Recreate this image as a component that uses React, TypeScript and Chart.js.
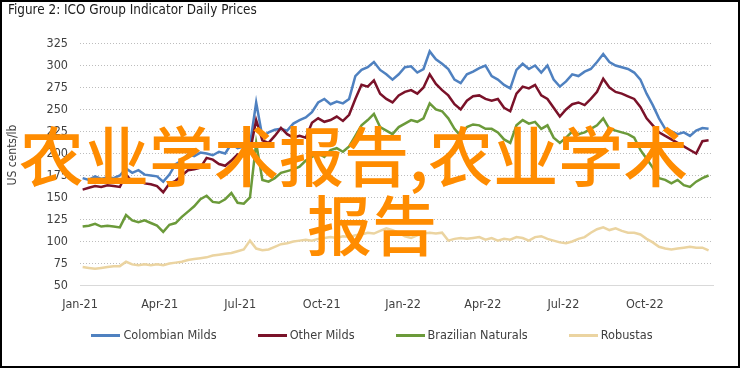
import React, { useEffect, useRef } from "react";
import { Chart, registerables } from "chart.js";

Chart.register(...registerables);

// ---------- data ----------
const AXIS_START = "2021-01-01";
const AXIS_END = "2022-12-17";
const FIRST_WEEK = "2021-01-04"; // weekly observations start here

const tickDates = ["2021-01-01", "2021-04-01", "2021-07-01", "2021-10-01", "2022-01-01", "2022-04-01", "2022-07-01", "2022-10-01"];
const tickLabels = ["Jan-21", "Apr-21", "Jul-21", "Oct-21", "Jan-22", "Apr-22", "Jul-22", "Oct-22"];

const seriesNames = ["Colombian Milds", "Other Milds", "Brazilian Naturals", "Robustas"];
const seriesColors = ["#4f81c0", "#7a1229", "#6b9a3a", "#ebd4a1"];

const colombianMilds = [
  172, 170, 174, 171, 173, 172, 175, 183, 178, 181,
  176, 175, 174, 168, 176, 188, 192, 199, 197, 201,
  200, 198, 202, 200, 211, 206, 208, 210, 258, 219,
  224, 227, 228, 226, 234, 238, 241, 247, 258, 262,
  256, 259, 257, 262, 288, 295, 298, 304, 295, 290,
  284, 290, 298, 299, 292, 296, 316, 307, 302, 296,
  284, 280, 290, 293, 297, 300, 288, 284, 278, 274,
  295, 302, 296, 300, 292, 300, 284, 276, 282, 290,
  288, 293, 296, 304, 313, 304, 300, 298, 296, 292,
  284, 268, 255, 240, 228, 225, 222, 224, 220, 226, 229, 228,
];

const otherMilds = [
  159, 161, 163, 162, 164, 163, 162, 176, 168, 170,
  166, 165, 163, 156, 166, 169, 175, 181, 182, 184,
  195, 193, 188, 186, 192, 199, 197, 202, 238, 215,
  212, 220, 229, 222, 218, 220, 218, 235, 240, 236,
  238, 242, 237, 244, 262, 278, 276, 283, 268, 262,
  258, 266, 270, 272, 268, 275, 290, 279, 272, 266,
  256, 250, 260, 265, 266, 262, 260, 262, 252, 248,
  268, 276, 274, 278, 266, 262, 252, 242, 250, 256,
  258, 255, 262, 270, 285, 275, 270, 268, 265, 262,
  253, 240, 232, 224, 220, 216, 212, 208, 204, 200, 214, 215,
];

const brazilianNaturals = [
  117, 118, 120, 117, 118, 117, 116, 130, 124, 122,
  124, 121, 118, 111, 119, 121, 128, 134, 140, 148,
  152, 145, 144, 148, 155, 144, 143, 150, 212, 170,
  168, 172, 178, 180, 182, 185, 192, 196, 200, 196,
  204, 206, 202, 208, 220, 232, 238, 245, 230, 226,
  222, 230, 234, 238, 236, 240, 257, 250, 248, 240,
  228, 220, 230, 233, 232, 228, 228, 224, 216, 212,
  232, 238, 234, 236, 228, 232, 218, 212, 218, 225,
  222, 224, 228, 232, 240, 228, 226, 224, 222, 218,
  204, 194, 184, 172, 170, 166, 170, 164, 162, 168, 172, 175,
];

const robustas = [
  71, 70, 69, 70, 71, 72, 72, 77, 74, 73,
  74, 73, 74, 73, 75, 76, 77, 79, 80, 81,
  82, 84, 85, 86, 87, 89, 91, 101, 92, 90,
  91, 94, 97, 98, 100, 101, 102, 101, 103, 104,
  105, 104, 106, 105, 107, 108, 110, 109, 112, 115,
  113, 110, 106, 104, 107, 109, 110, 109, 110, 101,
  103, 104, 103, 104, 105, 102, 104, 101, 103, 102,
  105, 104, 101, 105, 106, 103, 101, 99, 98, 100,
  103, 105, 110, 114, 116, 113, 115, 112, 110, 110,
  108, 103, 99, 94, 92, 91, 92, 93, 94, 93, 93, 90,
];

const TITLE = "Figure 2: ICO Group Indicator Daily Prices";
const Y_TITLE = "US cents/lb";
const WATERMARK_LINE1 = "农业学术报告,农业学术";
const WATERMARK_LINE2 = "报告";

// ---------- helpers ----------
const DAY_MS = 86400000;
const dayIndex = (iso: string) =>
  (Date.parse(iso + "T00:00:00Z") - Date.parse(AXIS_START + "T00:00:00Z")) / DAY_MS;
const firstDay = dayIndex(FIRST_WEEK);
const tickDays = tickDates.map(dayIndex);

const FONT = '"DejaVu Sans Condensed", "Liberation Sans", sans-serif';
const CJK = '"Noto Sans CJK SC", sans-serif';
const TEXT = "#404040";
const ORANGE = "#ff8c00";

export default function App() {
  const ref = useRef<HTMLCanvasElement | null>(null);

  useEffect(() => {
    if (!ref.current) return;
    const allSeries = [colombianMilds, otherMilds, brazilianNaturals, robustas];
    const datasets = allSeries.map((vals, k) => ({
      label: seriesNames[k],
      data: vals.map((v, i) => ({ x: firstDay + 7 * i, y: v })),
      borderColor: seriesColors[k],
      backgroundColor: seriesColors[k],
      borderWidth: 2.5,
      pointRadius: 0,
      pointHoverRadius: 0,
      tension: 0,
      order: 4 - k,
    }));

    const chart = new Chart(ref.current, {
      type: "line",
      data: { datasets },
      options: {
        responsive: false,
        animation: false,
        devicePixelRatio: 1,
        layout: { padding: { left: 5, right: 29, top: 43.5, bottom: 0 } },
        plugins: {
          legend: { display: false },
          tooltip: { enabled: false },
          title: { display: false },
        },
        scales: {
          x: {
            type: "linear",
            min: 0,
            max: dayIndex(AXIS_END),
            afterBuildTicks: (s: any) => {
              s.ticks = tickDays.map((d) => ({ value: d }));
            },
            afterFit: (s: any) => {
              s.height = 83.5;
            },
            grid: { display: false, drawTicks: false },
            border: { display: true, color: "#d9d9d9", width: 1 },
            ticks: {
              autoSkip: false,
              maxRotation: 0,
              padding: 12,
              color: TEXT,
              font: { family: FONT, size: 12.5 },
              callback: (v: any) => {
                const i = tickDays.indexOf(Number(v));
                return i >= 0 ? tickLabels[i] : "";
              },
            },
          },
          y: {
            min: 50,
            max: 325,
            afterFit: (s: any) => {
              s.width = 75;
            },
            ticks: {
              stepSize: 25,
              padding: 12,
              color: TEXT,
              font: { family: FONT, size: 12.5 },
            },
            grid: {
              drawTicks: false,
              lineWidth: 1,
              color: (c: any) => (c.tick && c.tick.value === 50 ? "rgba(0,0,0,0)" : "#bdbdbd"),
              borderDash: [1, 2],
            } as any,
            border: { display: false, dash: [1, 2] },
          },
        },
      } as any,
    });
    return () => chart.destroy();
  }, []);

  const wm: React.CSSProperties = {
    position: "absolute",
    fontFamily: CJK,
    fontSize: 65,
    fontWeight: 500,
    lineHeight: "65px",
    color: ORANGE,
    whiteSpace: "nowrap",
  };

  return (
    <div
      style={{
        position: "fixed",
        left: 0,
        top: 0,
        width: 742,
        height: 369,
        background: "#fff",
        overflow: "hidden",
      }}
    >
      <canvas ref={ref} width={742} height={369} style={{ position: "absolute", left: 0, top: 0 }} />
      <div
        style={{
          position: "absolute",
          left: 8,
          top: 1,
          fontFamily: FONT,
          fontSize: 13.4,
          lineHeight: "18px",
          color: "#1a1a1a",
          whiteSpace: "nowrap",
        }}
      >
        {TITLE}
      </div>
      <div
        style={{
          position: "absolute",
          left: 12,
          top: 155,
          transform: "translate(-50%, -50%) rotate(-90deg)",
          fontFamily: FONT,
          fontSize: 12,
          lineHeight: "14px",
          color: TEXT,
          whiteSpace: "nowrap",
        }}
      >
        {Y_TITLE}
      </div>
      <div
        style={{
          position: "absolute",
          left: 0,
          width: 744,
          top: 327,
          height: 16,
          display: "flex",
          justifyContent: "center",
          alignItems: "center",
          gap: 41,
        }}
      >
        {seriesNames.map((n, k) => (
          <div key={n} style={{ display: "flex", alignItems: "center" }}>
            <span style={{ display: "inline-block", width: 29, height: 3, background: seriesColors[k], marginRight: 3 }} />
            <span style={{ fontFamily: FONT, fontSize: 12.6, lineHeight: "16px", color: TEXT, whiteSpace: "nowrap" }}>{n}</span>
          </div>
        ))}
      </div>
      <div style={{ ...wm, left: 19, top: 121 }}>{WATERMARK_LINE1}</div>
      <div style={{ ...wm, left: 307, top: 190 }}>{WATERMARK_LINE2}</div>
      <div
        style={{
          position: "absolute",
          left: 0,
          top: 0,
          width: 740,
          height: 368,
          border: "2px solid #000",
          boxSizing: "border-box",
          pointerEvents: "none",
        }}
      />
    </div>
  );
}
